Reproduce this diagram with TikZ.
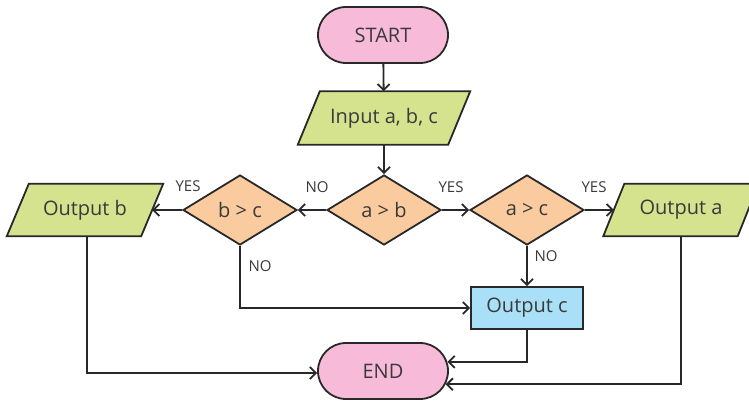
\documentclass[tikz,border=0pt]{standalone}
\usepackage{fontspec}
\setmainfont{Open Sans}
\usetikzlibrary{shapes.geometric,shapes.misc,arrows.meta,calc,backgrounds}

\definecolor{termfill}{RGB}{247,187,217}
\definecolor{iofill}{RGB}{213,227,143}
\definecolor{decfill}{RGB}{250,203,158}
\definecolor{procfill}{RGB}{170,224,247}
\definecolor{edge}{RGB}{40,40,40}
\definecolor{ink}{RGB}{58,58,58}

\tikzset{
  base/.style={draw=edge, line width=1.8pt, text=ink,
    font=\fontsize{20}{24}\selectfont, inner sep=0pt},
  term/.style={base, rounded rectangle, fill=termfill,
    minimum width=130pt, minimum height=56pt},
  % text holder of a data box; the slanted outline is drawn behind it
  io/.style={text=ink, font=\fontsize{20}{24}\selectfont, inner sep=0pt,
    rectangle, minimum height=52pt},
  iooutline/.style={draw=edge, fill=iofill, line width=1.8pt},
  decision/.style={base, diamond, fill=decfill,
    minimum width=114pt, minimum height=70pt},
  proc/.style={base, rectangle, fill=procfill,
    minimum width=112pt, minimum height=42pt},
  flow/.style={draw=edge, line width=1.8pt,
    -{Straight Barb[length=6pt,width=12pt]}},
  lab/.style={text=ink, font=\fontsize{15}{18}\selectfont, inner sep=0pt},
}

% parallelogram around a node: #1 node name, #2 horizontal slant
\newcommand{\ioshape}[2]{%
  \path[iooutline]
    ($(#1.south west)+(-#2/2,0)$) -- ($(#1.north west)+(#2/2,0)$) --
    ($(#1.north east)+(#2/2,0)$) -- ($(#1.south east)+(-#2/2,0)$) -- cycle;}

\begin{document}
\begin{tikzpicture}[x=1pt,y=-1pt]
\useasboundingbox (0,0) rectangle (749,401);

% shapes
\node[term] (start) at (383,35) {START};
\node[io, minimum width=150pt, minimum height=53pt] (in) at (384,118) {Input a, b, c};
\node[decision] (ab) at (384,210) {a > b};
\node[decision] (bc) at (240,210) {b > c};
\node[decision] (ac) at (527,210) {a > c};
\node[io, minimum width=134pt] (outb) at (85,210) {Output b};
\node[io, minimum width=134pt] (outa) at (681,210) {Output a};
\node[proc] (outc) at (527,308) {Output c};
\node[term] (end) at (383,371) {END};

\begin{scope}[on background layer]
  \ioshape{in}{22}
  \ioshape{outb}{22}
  \ioshape{outa}{21}
\end{scope}

% connectors
\draw[flow] (start) -- (in);
\draw[flow] (in) -- (ab);
\draw[flow] (ab.west) -- (bc.east);
\draw[flow] (ab.east) -- (ac.west);
\draw[flow] (bc.west) -- (outb.east);
\draw[flow] (ac.east) -- (outa.west);
\draw[flow] (bc.south) |- (outc.west);
\draw[flow] (ac.south) -- (outc.north);
\draw[flow] ([xshift=2pt]outb.south) |- ([yshift=-2pt]end.west);
\draw[flow] (outc.south) |- (end.8);
\draw[flow] (outa.south) |- (end.348);

% branch labels
\node[lab] (l1) at (317,187) {NO};
\node[lab] (l2) at (451,187) {YES};
\node[lab] (l3) at (188,186) {YES};
\node[lab] (l4) at (594,187) {YES};
\node[lab] (l5) at (260,266) {NO};
\node[lab] (l6) at (546,256) {NO};
\end{tikzpicture}
\end{document}
